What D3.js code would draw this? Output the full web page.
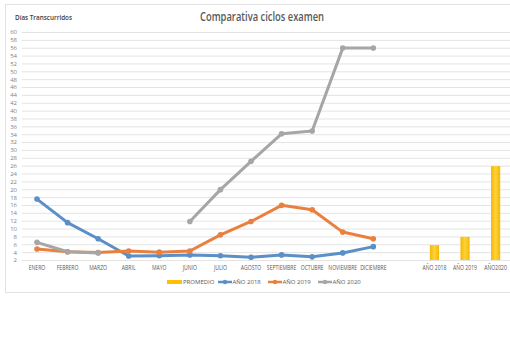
<!DOCTYPE html>
<html><head><meta charset="utf-8">
<script src="https://cdn.jsdelivr.net/npm/d3@7"></script>
<style>body{margin:0;background:#fff}svg{display:block}text{font-family:"Open Sans","Liberation Sans",sans-serif}</style>
</head><body>
<svg id="c" width="510" height="349"></svg>
<script>
const categories = ["ENERO","FEBRERO","MARZO","ABRIL","MAYO","JUNIO","JULIO","AGOSTO","SEPTIEMBRE","OCTUBRE","NOVIEMBRE","DICIEMBRE"," ","AÑO 2018","AÑO 2019","AÑO2020"];
const months = categories.slice(0,12);
const ano2018 = [17.5,11.5,7.4,3.0,3.1,3.3,3.1,2.7,3.3,2.8,3.8,5.4];
const ano2019 = [4.8,4.1,3.9,4.3,4.0,4.3,8.4,11.8,15.9,14.8,9.1,7.4];
const ano2020 = [6.5,4.1,3.8,null,null,11.8,19.9,27.1,34.1,34.8,55.9,55.9];
const promedioCats = ["AÑO 2018","AÑO 2019","AÑO2020"];
const promedio = [5.8,7.9,25.9];
const yTicks = d3.range(2,61,2);
const title = "Comparativa ciclos examen";
const yTitle = "Días Transcurridos";

const svg = d3.select("#c");
const defs = svg.append("defs");
const g = defs.append("linearGradient").attr("id","bargrad").attr("x1","0").attr("x2","1").attr("y1","0").attr("y2","0");
g.append("stop").attr("offset","0").attr("stop-color","#f5b800");
g.append("stop").attr("offset","0.5").attr("stop-color","#ffd23a");
g.append("stop").attr("offset","1").attr("stop-color","#f5b800");

// outer border
svg.append("rect").attr("x",5.5).attr("y",4.5).attr("width",520).attr("height",288).attr("fill","none").attr("stroke","#e3e3e3");

const x = d3.scaleBand().domain(categories).range([21.7,510.9]).paddingInner(0.7).paddingOuter(0.35);
const cx = d => x(d) + x.bandwidth()/2;
const y = d3.scaleLinear().domain([2,60]).range([260,32]);

// gridlines
svg.append("g").selectAll("line").data(yTicks).join("line")
  .attr("x1",21.7).attr("x2",511).attr("y1",d=>y(d)+0.5).attr("y2",d=>y(d)+0.5)
  .attr("stroke","#e4e4e4").attr("stroke-width",1);

// y axis labels
const ya = svg.append("g").attr("transform","translate(18,0)")
  .call(d3.axisLeft(y).tickValues(yTicks).tickSize(0).tickPadding(1));
ya.select(".domain").remove();
ya.selectAll("text").attr("font-size","6px").attr("fill","#7f7f7f");

// x axis labels
const xa = svg.append("g").attr("transform","translate(0,266)")
  .call(d3.axisBottom(x).tickSize(0).tickPadding(0));
xa.select(".domain").remove();
xa.selectAll("text").attr("font-size","6.2px").attr("fill","#595959").attr("transform","scale(0.82,1)");

// bars
svg.append("g").selectAll("rect").data(promedio).join("rect")
  .attr("x",(d,i)=>x(promedioCats[i])).attr("width",x.bandwidth())
  .attr("y",d=>y(d)).attr("height",d=>y(2)-y(d))
  .attr("fill","url(#bargrad)");

// lines
const series = [
  {name:"AÑO 2018", vals:ano2018, color:"#5b8fc6"},
  {name:"AÑO 2019", vals:ano2019, color:"#e9803f"},
  {name:"AÑO 2020", vals:ano2020, color:"#a6a6a6"}
];
const line = d3.line().defined(d=>d.v!=null).x(d=>cx(d.c)).y(d=>y(d.v));
series.forEach(s=>{
  const data = months.map((c,i)=>({c, v:s.vals[i]}));
  svg.append("path").datum(data).attr("d",line).attr("fill","none")
    .attr("stroke",s.color).attr("stroke-width",3).attr("stroke-linejoin","round");
  svg.append("g").selectAll("circle").data(data.filter(d=>d.v!=null)).join("circle")
    .attr("cx",d=>cx(d.c)).attr("cy",d=>y(d.v)).attr("r",2.8).attr("fill",s.color);
});

// titles
svg.append("text").attr("x",200).attr("y",20.5).attr("font-size","12.5px").attr("font-weight","600")
  .attr("fill","#595959").attr("textLength",124).attr("lengthAdjust","spacingAndGlyphs").text(title);
svg.append("text").attr("x",15).attr("y",19.5).attr("font-size","7.5px").attr("font-weight","600")
  .attr("fill","#404040").attr("textLength",57).attr("lengthAdjust","spacingAndGlyphs").text(yTitle);

// legend
const ly = 282;
const leg = svg.append("g");
leg.append("rect").attr("x",167).attr("y",ly-2).attr("width",15).attr("height",4).attr("fill","#ffc000");
leg.append("text").attr("x",183).attr("y",ly+2).attr("font-size","6px").attr("fill","#595959").text("PROMEDIO");
const legPos = [218,268,318];
series.forEach((s,i)=>{
  const lx = legPos[i];
  leg.append("line").attr("x1",lx).attr("x2",lx+14).attr("y1",ly).attr("y2",ly).attr("stroke",s.color).attr("stroke-width",2.5);
  leg.append("circle").attr("cx",lx+7).attr("cy",ly).attr("r",2.2).attr("fill",s.color);
  leg.append("text").attr("x",lx+14.5).attr("y",ly+2).attr("font-size","6px").attr("fill","#595959").text(s.name);
});
</script>
</body></html>
